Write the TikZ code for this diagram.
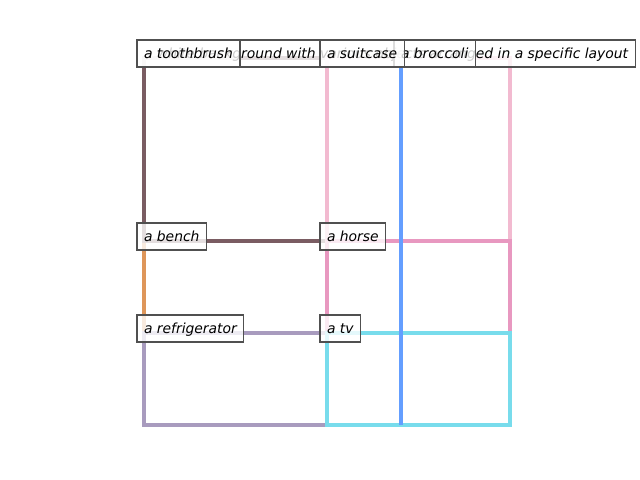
\documentclass[tikz,border=0pt]{standalone}
\usepackage{fontspec}
\setmainfont{DejaVu Sans}
\definecolor{cgray}{RGB}{215,215,215}
\definecolor{ctooth}{RGB}{122,92,98}
\definecolor{csuit}{RGB}{242,186,208}
\definecolor{cbroc}{RGB}{100,158,255}
\definecolor{cbench}{RGB}{222,150,90}
\definecolor{chorse}{RGB}{232,152,192}
\definecolor{cfridge}{RGB}{168,155,190}
\definecolor{ctv}{RGB}{120,220,236}
\definecolor{cedge}{RGB}{80,80,80}
\begin{document}
\begin{tikzpicture}[x=0.72pt,y=-0.72pt,
  objbox/.style={line width=2.2pt},
  lbl/.style={draw=cedge, line width=0.75pt, fill=white, fill opacity=0.8, text opacity=1,
    anchor=base west, inner xsep=5.04pt, inner ysep=0pt, outer sep=0pt,
    text height=12.96pt, text depth=6.48pt,
    font=\itshape\fontsize{10}{12}\selectfont}]
\useasboundingbox (0,0) rectangle (640,480);
% corners
\coordinate (tl) at (144,58);
\coordinate (br) at (510,425);
% caption frame
\draw[objbox, cgray] (tl) rectangle (br);
% objects
\draw[objbox, cbench] (144,241) rectangle (327,333);
\draw[objbox, ctooth] (144,58) rectangle (327,241);
\draw[objbox, cfridge] (144,333) rectangle (327,425);
\draw[objbox, csuit] (327,58) rectangle (510,241);
\draw[objbox, chorse] (327,241) rectangle (510,333);
\draw[objbox, ctv] (327,333) rectangle (510,425);
\draw[objbox, cbroc] (401,58) -- (401,425);
% labels
\node[lbl] (caption) at (137,58) {a white background with various objects arranged in a specific layout};
\node[lbl] (toothbrush) at (137,58) {a toothbrush};
\node[lbl] (broccoli) at (394,58) {a broccoli};
\node[lbl] (suitcase) at (320,58) {a suitcase};
\node[lbl] (bench) at (137,241) {a bench};
\node[lbl] (horse) at (320,241) {a horse};
\node[lbl] (fridge) at (137,333) {a refrigerator};
\node[lbl] (tv) at (320,333) {a tv};
\end{tikzpicture}
\end{document}
